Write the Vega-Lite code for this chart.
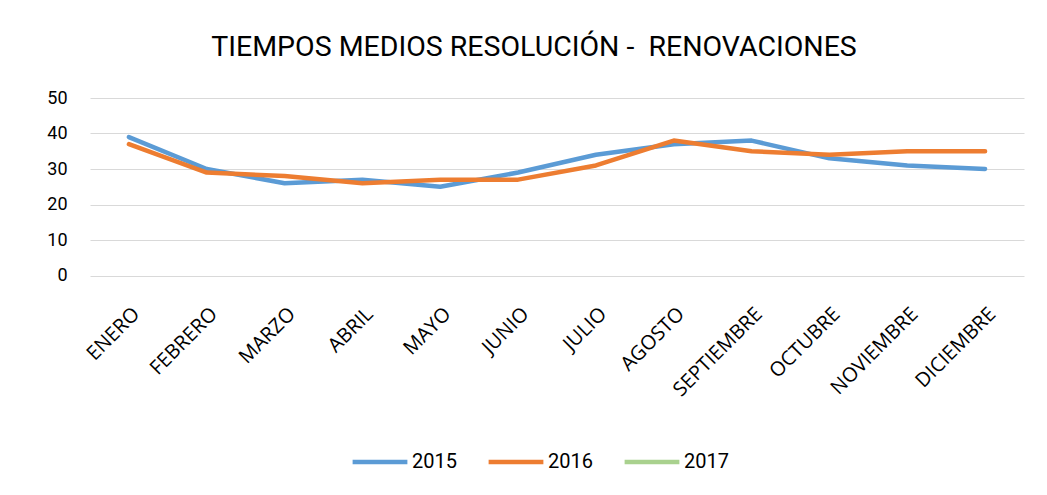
{
  "$schema": "https://vega.github.io/schema/vega-lite/v6.json",
  "width": 934,
  "height": 177.5,
  "autosize": {"type": "none"},
  "padding": {"left": 90, "top": 98, "right": 23, "bottom": 219.5},
  "background": "white",
  "title": {
    "text": "TIEMPOS MEDIOS RESOLUCIÓN -\u00a0 RENOVACIONES",
    "font": "Roboto",
    "fontSize": 28.5,
    "fontWeight": "normal",
    "color": "#000000",
    "anchor": "middle",
    "dx": -23,
    "offset": 28
  },
  "data": {
    "values": [
      {"mes": "ENERO", "anio": "2015", "valor": 39},
      {"mes": "FEBRERO", "anio": "2015", "valor": 30},
      {"mes": "MARZO", "anio": "2015", "valor": 26},
      {"mes": "ABRIL", "anio": "2015", "valor": 27},
      {"mes": "MAYO", "anio": "2015", "valor": 25},
      {"mes": "JUNIO", "anio": "2015", "valor": 29},
      {"mes": "JULIO", "anio": "2015", "valor": 34},
      {"mes": "AGOSTO", "anio": "2015", "valor": 37},
      {"mes": "SEPTIEMBRE", "anio": "2015", "valor": 38},
      {"mes": "OCTUBRE", "anio": "2015", "valor": 33},
      {"mes": "NOVIEMBRE", "anio": "2015", "valor": 31},
      {"mes": "DICIEMBRE", "anio": "2015", "valor": 30},
      {"mes": "ENERO", "anio": "2016", "valor": 37},
      {"mes": "FEBRERO", "anio": "2016", "valor": 29},
      {"mes": "MARZO", "anio": "2016", "valor": 28},
      {"mes": "ABRIL", "anio": "2016", "valor": 26},
      {"mes": "MAYO", "anio": "2016", "valor": 27},
      {"mes": "JUNIO", "anio": "2016", "valor": 27},
      {"mes": "JULIO", "anio": "2016", "valor": 31},
      {"mes": "AGOSTO", "anio": "2016", "valor": 38},
      {"mes": "SEPTIEMBRE", "anio": "2016", "valor": 35},
      {"mes": "OCTUBRE", "anio": "2016", "valor": 34},
      {"mes": "NOVIEMBRE", "anio": "2016", "valor": 35},
      {"mes": "DICIEMBRE", "anio": "2016", "valor": 35}
    ]
  },
  "mark": {"type": "line", "strokeWidth": 4.5, "strokeCap": "round", "strokeJoin": "round"},
  "encoding": {
    "x": {
      "field": "mes",
      "type": "nominal",
      "sort": ["ENERO","FEBRERO","MARZO","ABRIL","MAYO","JUNIO","JULIO","AGOSTO","SEPTIEMBRE","OCTUBRE","NOVIEMBRE","DICIEMBRE"],
      "scale": {"type": "point", "padding": 0.5},
      "axis": {
        "title": null,
        "labelAngle": -45,
        "labelAlign": "right",
        "labelBaseline": "top",
        "labelPadding": 28,
        "labelFont": "Open Sans",
        "labelFontSize": 20,
        "labelColor": "#000000",
        "labelOverlap": false,
        "ticks": false,
        "domain": false,
        "grid": false
      }
    },
    "y": {
      "field": "valor",
      "type": "quantitative",
      "scale": {"domain": [0, 50]},
      "axis": {
        "title": null,
        "values": [0, 10, 20, 30, 40, 50],
        "labelFont": "Roboto",
        "labelFontSize": 18,
        "labelColor": "#000000",
        "labelPadding": 23,
        "ticks": false,
        "domain": false,
        "grid": true,
        "gridColor": "#d9d9d9",
        "gridWidth": 1.2
      }
    },
    "color": {
      "field": "anio",
      "type": "nominal",
      "scale": {"domain": ["2015", "2016", "2017"], "range": ["#5B9BD5", "#ED7D31", "#A9D18E"]},
      "legend": {
        "title": null,
        "orient": "none",
        "direction": "horizontal",
        "legendX": 260,
        "legendY": 334,
        "symbolType": "stroke",
        "symbolSize": 3000,
        "symbolStrokeWidth": 4.5,
        "labelFont": "Roboto",
        "labelFontSize": 20,
        "labelColor": "#000000",
        "labelOffset": 2,
        "columnPadding": 22
      }
    }
  },
  "config": {"view": {"stroke": null}}
}
